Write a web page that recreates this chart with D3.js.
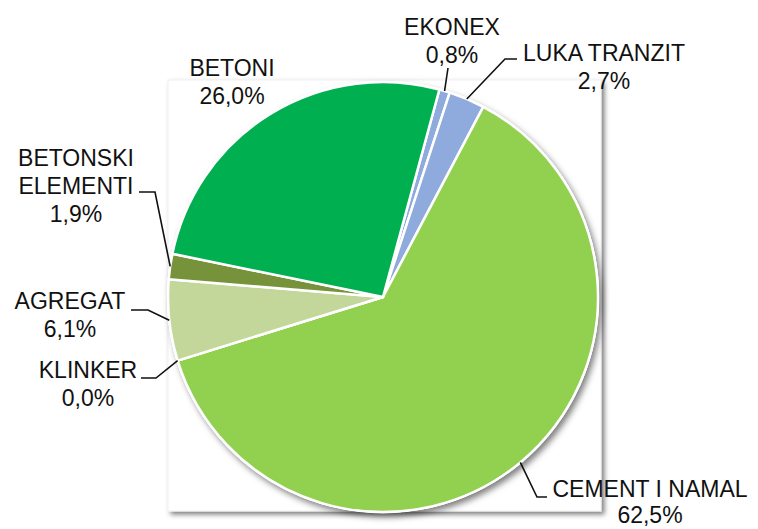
<!DOCTYPE html>
<html>
<head>
<meta charset="utf-8">
<script src="https://cdn.jsdelivr.net/npm/d3@7"></script>
<style>
  body { margin: 0; background: #fff; }
  text { font-family: "Liberation Sans", Arial, sans-serif; font-size: 23px; fill: #111; }
</style>
</head>
<body>
<div id="container"></div>
<script>
// data
const categories = ["EKONEX", "LUKA TRANZIT", "CEMENT I NAMAL", "KLINKER", "AGREGAT", "BETONSKI ELEMENTI", "BETONI"];
const shares = [0.8, 2.7, 62.5, 0.0, 6.1, 1.9, 26.0];
const colors = ["#8faadc", "#8faadc", "#92d050", "#92d050", "#c4d79b", "#76933c", "#00b050"];

// label layout: text lines, anchor centre x, first baseline y, leader elbow points
const labelLayout = [
  { lines: ["EKONEX", "0,8%"], x: 452, y: 35, leader: [[448, 68]] },
  { lines: ["LUKA TRANZIT", "2,7%"], x: 604, y: 61, leader: [[505, 59], [517, 59]] },
  { lines: ["CEMENT I NAMAL", "62,5%"], x: 650, y: 497, lineH: 26, leader: [[537, 497], [547, 497]] },
  { lines: ["KLINKER", "0,0%"], x: 88, y: 378, leader: [[156, 378], [141, 378]] },
  { lines: ["AGREGAT", "6,1%"], x: 70, y: 309, leader: [[148, 310], [131, 310]] },
  { lines: ["BETONSKI", "ELEMENTI", "1,9%"], x: 76, y: 166, lineH: 28, leader: [[155, 192], [139, 192]] },
  { lines: ["BETONI", "26,0%"], x: 232, y: 76, leader: null }
];

const width = 758, height = 529;
const cx = 383, cy = 297, radius = 215;
const startDeg = 15.2;

const svg = d3.select("#container").append("svg")
  .attr("width", width)
  .attr("height", height);

const defs = svg.append("defs");
defs.append("filter").attr("id", "boxShadow")
  .attr("x", "-5%").attr("y", "-5%").attr("width", "115%").attr("height", "115%")
  .append("feDropShadow")
  .attr("dx", 3).attr("dy", 3).attr("stdDeviation", 2.5)
  .attr("flood-color", "#000").attr("flood-opacity", 0.5);
defs.append("filter").attr("id", "pieShadow")
  .attr("x", "-10%").attr("y", "-10%").attr("width", "125%").attr("height", "125%")
  .append("feDropShadow")
  .attr("dx", 3).attr("dy", 4).attr("stdDeviation", 3)
  .attr("flood-color", "#000").attr("flood-opacity", 0.5);

// plot area box
svg.append("rect")
  .attr("x", 168).attr("y", 80)
  .attr("width", 433).attr("height", 431)
  .attr("fill", "#fff")
  .attr("stroke", "#f0f0f0")
  .attr("filter", "url(#boxShadow)");

const pie = d3.pie()
  .sort(null)
  .value(d => d)
  .startAngle(startDeg * Math.PI / 180)
  .endAngle(startDeg * Math.PI / 180 + 2 * Math.PI);

const arcs = pie(shares);
const arcGen = d3.arc().innerRadius(0).outerRadius(radius);

const g = svg.append("g")
  .attr("transform", `translate(${cx},${cy})`);

// shadow disc under the pie
g.append("circle")
  .attr("r", radius + 1)
  .attr("fill", "#fff")
  .attr("filter", "url(#pieShadow)");

g.selectAll("path.slice")
  .data(arcs)
  .join("path")
  .attr("class", "slice")
  .attr("d", arcGen)
  .attr("fill", (d, i) => colors[i])
  .attr("stroke", "#fff")
  .attr("stroke-width", 2.5)
  .attr("stroke-linejoin", "round");

// leader lines start at the slice edge midpoint
const labels = svg.append("g");
arcs.forEach((d, i) => {
  const lay = labelLayout[i];
  if (lay.leader) {
    const mid = (d.startAngle + d.endAngle) / 2;
    const start = [cx + radius * Math.sin(mid), cy - radius * Math.cos(mid)];
    const pts = [start].concat(lay.leader);
    labels.append("path")
      .attr("d", d3.line()(pts))
      .attr("fill", "none")
      .attr("stroke", "#111")
      .attr("stroke-width", 1.6);
  }
  const lh = lay.lineH || 28;
  const t = labels.append("text")
    .attr("text-anchor", "middle");
  lay.lines.forEach((ln, j) => {
    t.append("tspan")
      .attr("x", lay.x)
      .attr("y", lay.y + j * lh)
      .text(ln);
  });
});
</script>
</body>
</html>
